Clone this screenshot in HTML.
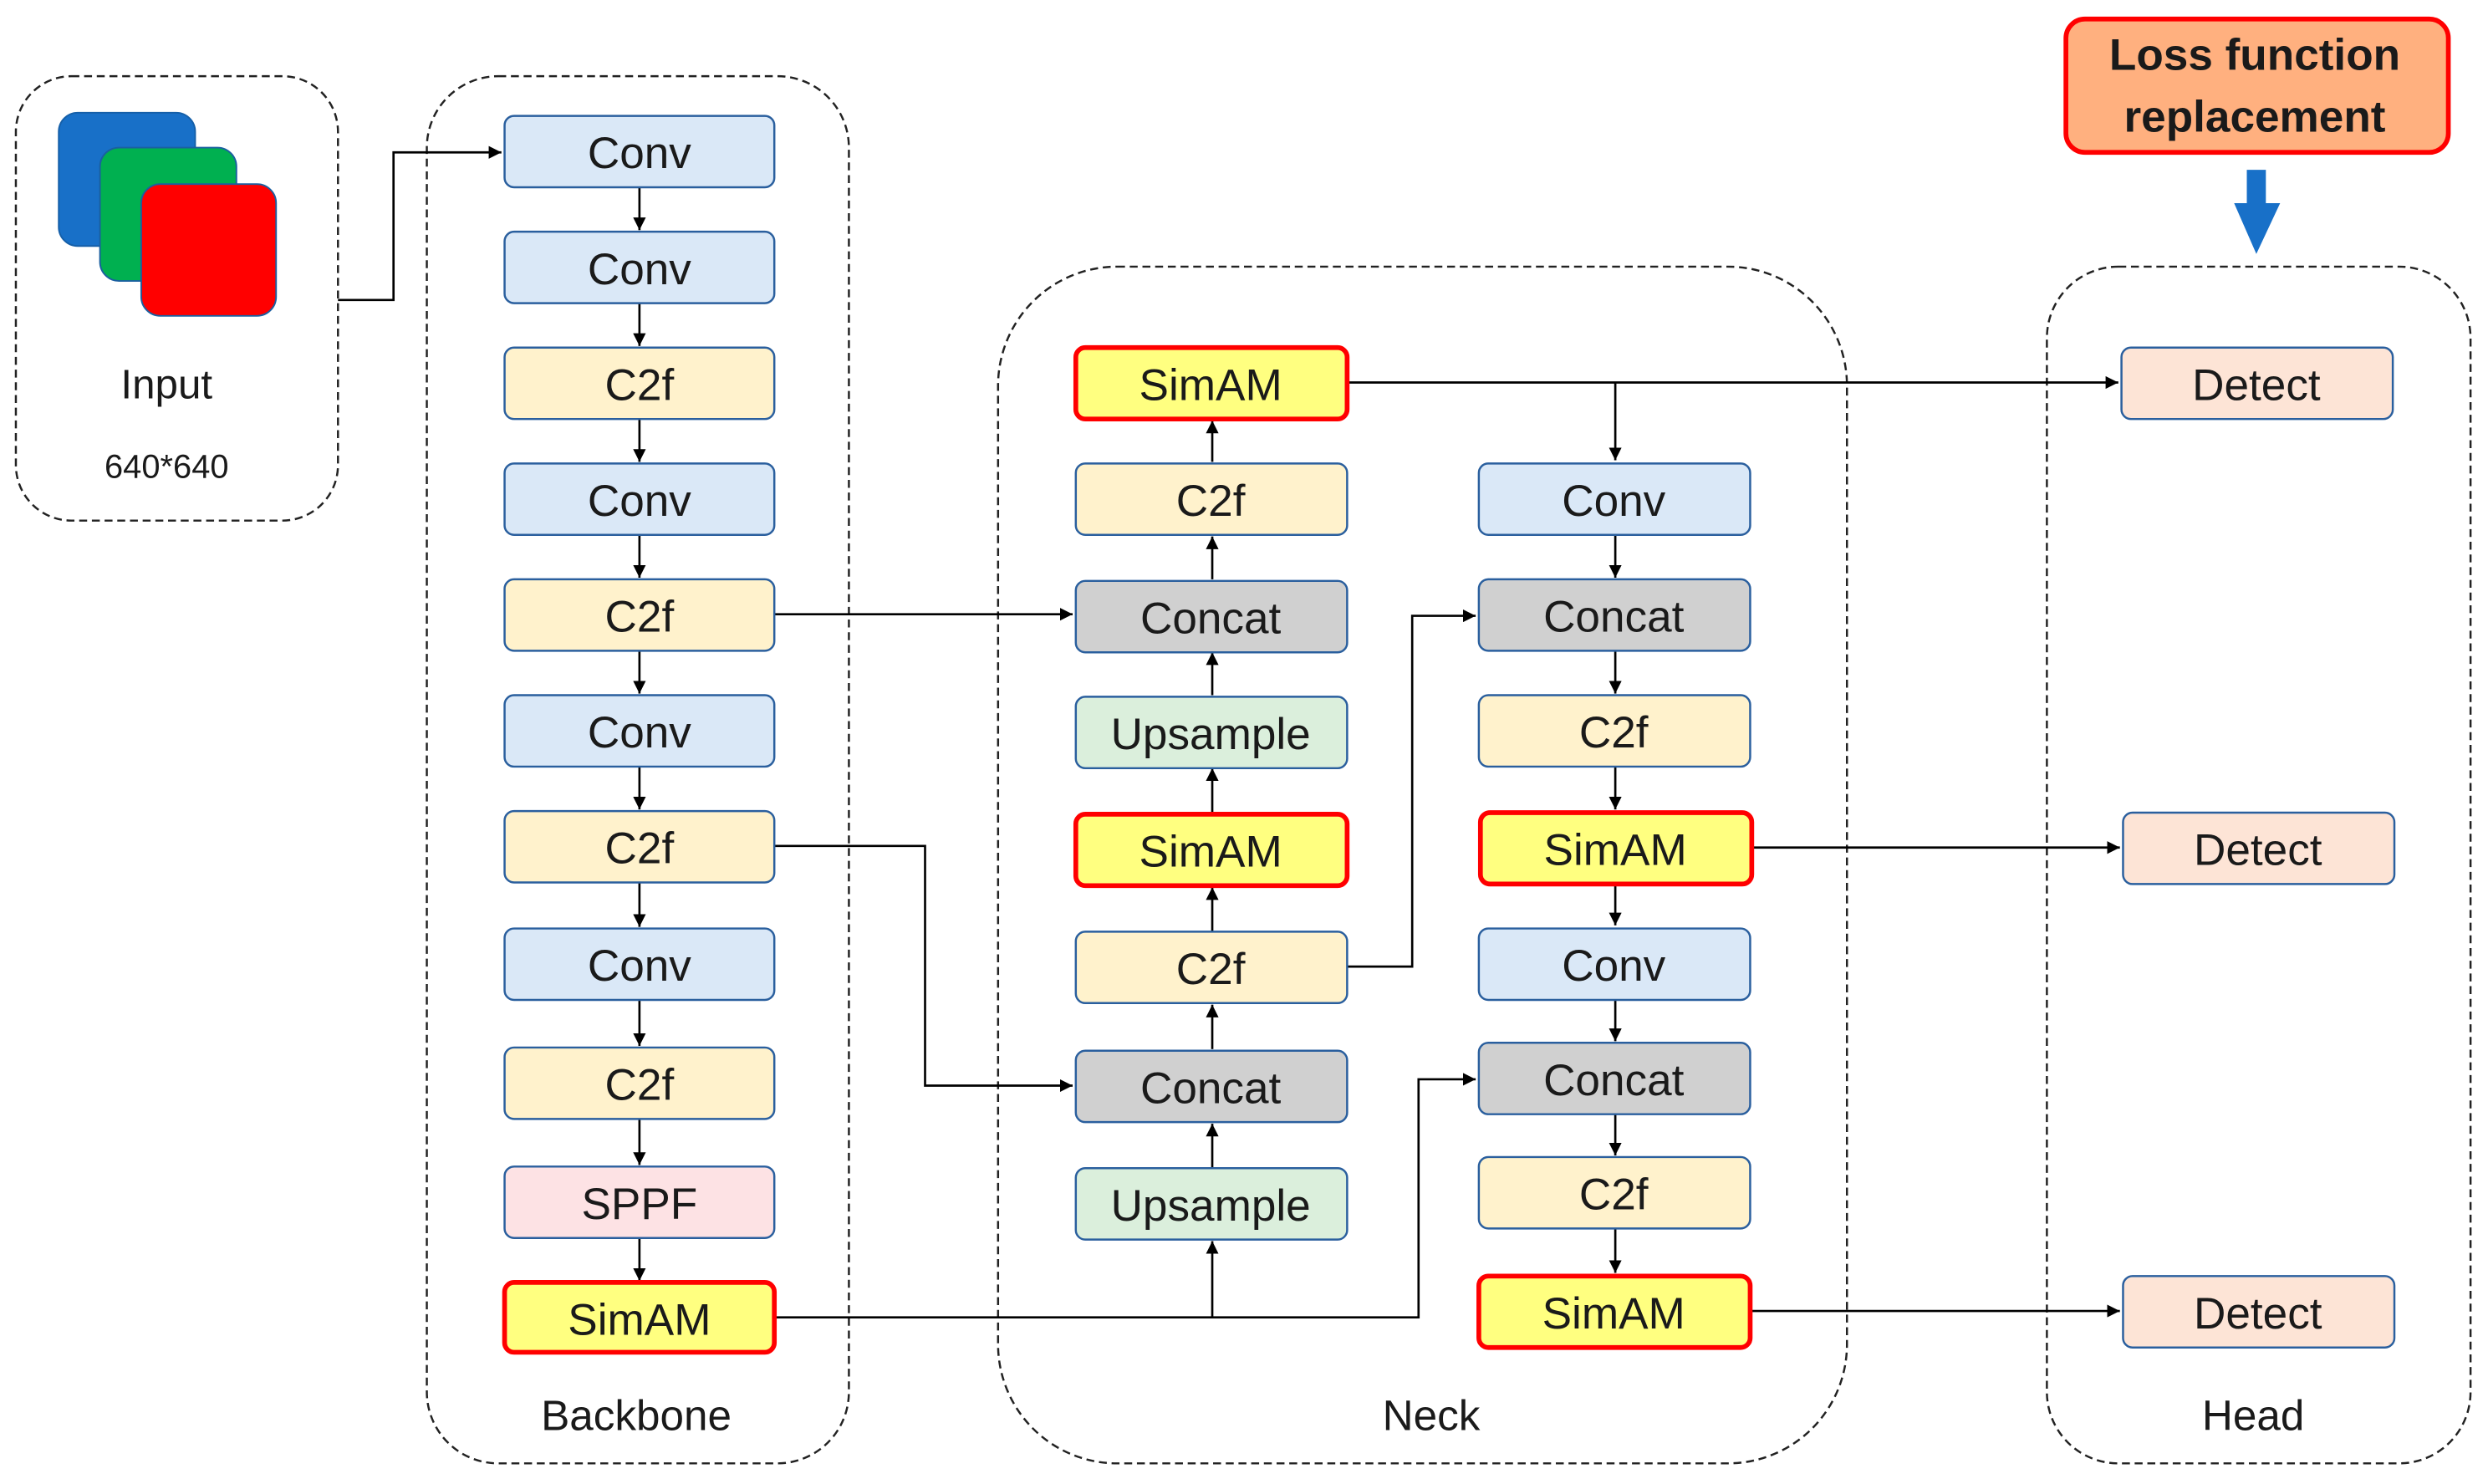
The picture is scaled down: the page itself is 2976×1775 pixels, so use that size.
<!DOCTYPE html>
<html><head><meta charset="utf-8"><style>
html,body{margin:0;padding:0;background:#fff;}
svg{display:block;}
text{font-family:"Liberation Sans",sans-serif;fill:#1a1a1a;}
</style></head><body>
<svg width="2976" height="1775" viewBox="0 0 1568 935" preserveAspectRatio="none" xmlns="http://www.w3.org/2000/svg">
<defs>
<marker id="a" viewBox="0 0 10 10" refX="10" refY="5" markerWidth="8" markerHeight="8" markerUnits="userSpaceOnUse" orient="auto"><path d="M0,0L10,5L0,10z" fill="#000"/></marker>
</defs>
<g fill="none" stroke="#222" stroke-width="1.3" stroke-dasharray="5,3">
<rect x="10" y="48" width="203" height="280" rx="35"/>
<rect x="269" y="48" width="266" height="874" rx="45"/>
<rect x="629" y="168" width="535" height="754" rx="75"/>
<rect x="1290" y="168" width="267" height="754" rx="45"/>
</g>
<rect x="37" y="71" width="86" height="84" rx="12" fill="#1870c8" stroke="#155fa8"/>
<rect x="63" y="93" width="86" height="84" rx="12" fill="#00b050" stroke="#1a5fa0"/>
<rect x="89" y="116" width="85" height="83" rx="12" fill="#ff0000" stroke="#1a5fa0"/>
<text x="105" y="251" font-size="26" text-anchor="middle">Input</text>
<text x="105" y="301" font-size="21" text-anchor="middle">640*640</text>
<text x="401" y="901" font-size="27" text-anchor="middle">Backbone</text>
<text x="902" y="901" font-size="27" text-anchor="middle">Neck</text>
<text x="1420" y="901" font-size="27" text-anchor="middle">Head</text>
<rect x="1302" y="12" width="241" height="84" rx="12" fill="#ffb07f" stroke="#ff0000" stroke-width="3"/>
<text x="1421" y="44" font-size="28" font-weight="bold" text-anchor="middle">Loss function</text>
<text x="1421" y="83" font-size="28" font-weight="bold" text-anchor="middle">replacement</text>
<path d="M1416,107H1428V128H1437L1422,160L1408,128H1416Z" fill="#1870c8"/>
<g fill="none" stroke="#000" stroke-width="1.4">
<path d="M213,189H248V96H316" marker-end="url(#a)"/>
<path d="M403,118V145" marker-end="url(#a)"/>
<path d="M403,191V218" marker-end="url(#a)"/>
<path d="M403,264V291" marker-end="url(#a)"/>
<path d="M403,337V364" marker-end="url(#a)"/>
<path d="M403,410V437" marker-end="url(#a)"/>
<path d="M403,483V510" marker-end="url(#a)"/>
<path d="M403,556V584" marker-end="url(#a)"/>
<path d="M403,630V659" marker-end="url(#a)"/>
<path d="M403,705V734" marker-end="url(#a)"/>
<path d="M403,780V807" marker-end="url(#a)"/>
<path d="M488,387H676" marker-end="url(#a)"/>
<path d="M488,533H583V684H676" marker-end="url(#a)"/>
<path d="M488,830H894V680H930" marker-end="url(#a)"/>
<path d="M764,830V782" marker-end="url(#a)"/>
<path d="M764,736V708" marker-end="url(#a)"/>
<path d="M764,661V633" marker-end="url(#a)"/>
<path d="M764,587V559" marker-end="url(#a)"/>
<path d="M764,512V484" marker-end="url(#a)"/>
<path d="M764,438V411" marker-end="url(#a)"/>
<path d="M764,365V338" marker-end="url(#a)"/>
<path d="M764,291V265" marker-end="url(#a)"/>
<path d="M849,609H890V388H930" marker-end="url(#a)"/>
<path d="M849,241H1335" marker-end="url(#a)"/>
<path d="M1018,241V290" marker-end="url(#a)"/>
<path d="M1018,337V364" marker-end="url(#a)"/>
<path d="M1018,410V437" marker-end="url(#a)"/>
<path d="M1018,483V510" marker-end="url(#a)"/>
<path d="M1018,557V583" marker-end="url(#a)"/>
<path d="M1018,630V656" marker-end="url(#a)"/>
<path d="M1018,702V728" marker-end="url(#a)"/>
<path d="M1018,774V802" marker-end="url(#a)"/>
<path d="M1104,534H1336" marker-end="url(#a)"/>
<path d="M1104,826H1336" marker-end="url(#a)"/>
</g>
<g font-size="28" text-anchor="middle">
<g stroke="#2a5f9e" stroke-width="1.3">
<rect x="318" y="73" width="170" height="45" rx="6" fill="#dae8f7"/>
<rect x="318" y="146" width="170" height="45" rx="6" fill="#dae8f7"/>
<rect x="318" y="219" width="170" height="45" rx="6" fill="#fff2cc"/>
<rect x="318" y="292" width="170" height="45" rx="6" fill="#dae8f7"/>
<rect x="318" y="365" width="170" height="45" rx="6" fill="#fff2cc"/>
<rect x="318" y="438" width="170" height="45" rx="6" fill="#dae8f7"/>
<rect x="318" y="511" width="170" height="45" rx="6" fill="#fff2cc"/>
<rect x="318" y="585" width="170" height="45" rx="6" fill="#dae8f7"/>
<rect x="318" y="660" width="170" height="45" rx="6" fill="#fff2cc"/>
<rect x="318" y="735" width="170" height="45" rx="6" fill="#fde2e4"/>
<rect x="678" y="292" width="171" height="45" rx="6" fill="#fff2cc"/>
<rect x="678" y="366" width="171" height="45" rx="6" fill="#d0d0d0"/>
<rect x="678" y="439" width="171" height="45" rx="6" fill="#dbefdc"/>
<rect x="678" y="587" width="171" height="45" rx="6" fill="#fff2cc"/>
<rect x="678" y="662" width="171" height="45" rx="6" fill="#d0d0d0"/>
<rect x="678" y="736" width="171" height="45" rx="6" fill="#dbefdc"/>
<rect x="932" y="292" width="171" height="45" rx="6" fill="#dae8f7"/>
<rect x="932" y="365" width="171" height="45" rx="6" fill="#d0d0d0"/>
<rect x="932" y="438" width="171" height="45" rx="6" fill="#fff2cc"/>
<rect x="932" y="585" width="171" height="45" rx="6" fill="#dae8f7"/>
<rect x="932" y="657" width="171" height="45" rx="6" fill="#d0d0d0"/>
<rect x="932" y="729" width="171" height="45" rx="6" fill="#fff2cc"/>
<rect x="1337" y="219" width="171" height="45" rx="6" fill="#fde4d6"/>
<rect x="1338" y="512" width="171" height="45" rx="6" fill="#fde4d6"/>
<rect x="1338" y="804" width="171" height="45" rx="6" fill="#fde4d6"/>
</g>
<g stroke="#ff0000" stroke-width="3" fill="#ffff80">
<rect x="318" y="808" width="170" height="44" rx="6"/>
<rect x="678" y="219" width="171" height="45" rx="6"/>
<rect x="678" y="513" width="171" height="45" rx="6"/>
<rect x="933" y="512" width="171" height="45" rx="6"/>
<rect x="932" y="804" width="171" height="45" rx="6"/>
</g>
<text x="403" y="106">Conv</text>
<text x="403" y="179">Conv</text>
<text x="403" y="252">C2f</text>
<text x="403" y="325">Conv</text>
<text x="403" y="398">C2f</text>
<text x="403" y="471">Conv</text>
<text x="403" y="544">C2f</text>
<text x="403" y="618">Conv</text>
<text x="403" y="693">C2f</text>
<text x="403" y="768">SPPF</text>
<text x="403" y="841">SimAM</text>
<text x="763" y="252">SimAM</text>
<text x="763" y="325">C2f</text>
<text x="763" y="399">Concat</text>
<text x="763" y="472">Upsample</text>
<text x="763" y="546">SimAM</text>
<text x="763" y="620">C2f</text>
<text x="763" y="695">Concat</text>
<text x="763" y="769">Upsample</text>
<text x="1017" y="325">Conv</text>
<text x="1017" y="398">Concat</text>
<text x="1017" y="471">C2f</text>
<text x="1018" y="545">SimAM</text>
<text x="1017" y="618">Conv</text>
<text x="1017" y="690">Concat</text>
<text x="1017" y="762">C2f</text>
<text x="1017" y="837">SimAM</text>
<text x="1422" y="252">Detect</text>
<text x="1423" y="545">Detect</text>
<text x="1423" y="837">Detect</text>
</g>
</svg>
</body></html>
